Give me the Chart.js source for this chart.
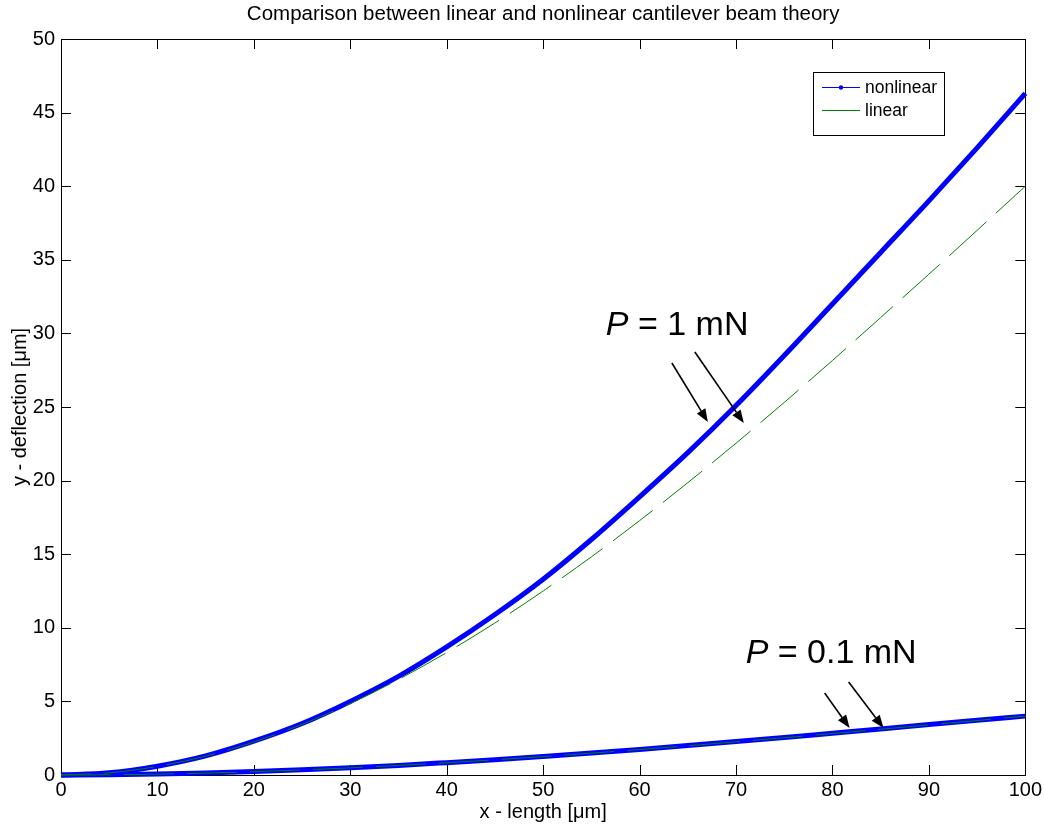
<!DOCTYPE html>
<html><head><meta charset="utf-8">
<script src="https://cdn.jsdelivr.net/npm/chart.js@4/dist/chart.umd.min.js"></script>
<style>html,body{margin:0;padding:0;background:#fff}#wrap{width:1045px;height:828px}</style>
</head><body><div id="wrap"><canvas id="c" width="1045" height="828" style="width:1045px;height:828px"></canvas></div>
<script>
// ---- data ----
const xValues      = [0,5,10,15,20,25,30,35,40,45,50,55,60,65,70,75,80,85,90,95,100];
const nonlinear1mN = [0,0.15,0.6,1.3,2.3,3.5,5.0,6.7,8.7,10.9,13.3,16.0,18.9,21.9,25.1,28.5,32.0,35.5,39.0,42.6,46.3];
const linear1mN    = [0,0.15,0.58,1.28,2.24,3.44,4.86,6.49,8.32,10.33,12.5,14.82,17.28,19.86,22.54,25.31,28.16,31.08,34.02,37.0,40.0];
const nonlinear01mN= [0,0.02,0.06,0.13,0.23,0.35,0.49,0.65,0.84,1.04,1.26,1.49,1.74,2.0,2.27,2.55,2.84,3.13,3.43,3.72,4.0];
const linear01mN   = [0,0.015,0.058,0.128,0.224,0.344,0.486,0.649,0.832,1.033,1.25,1.482,1.728,1.986,2.254,2.531,2.816,3.108,3.402,3.70,4.0];
const xTicks = [0,10,20,30,40,50,60,70,80,90,100];
const yTicks = [0,5,10,15,20,25,30,35,40,45,50];
const seriesNames = ['nonlinear','linear'];
const chartTitle = 'Comparison between linear and nonlinear cantilever beam theory';
const labelTexts = ['P = 1 mN','P = 0.1 mN'];
// annotation anchors in data units: text baseline-left, arrows [x0,y0,x1,y1]
const labelAnchors = [[56.5,29.9],[71.0,7.6]];
const arrowLines = [[63.35,27.99,67.08,23.98],[65.73,28.74,70.81,23.91],[79.19,5.57,81.78,3.19],[81.68,6.32,85.3,3.19]];

const FONT = 'Liberation Sans, Arial, Helvetica, sans-serif';
const toXY = ys => xValues.map((x,i)=>({x:x,y:ys[i]}));

const framePlugin = {
  id:'frame',
  beforeDatasetsDraw(chart){
    const {ctx, chartArea:a, scales:{x,y}} = chart;
    ctx.save();
    ctx.strokeStyle='#000'; ctx.lineWidth=1;
    ctx.beginPath();
    xTicks.forEach(v=>{const p=Math.round(x.getPixelForValue(v))+0.5;
      ctx.moveTo(p,a.bottom); ctx.lineTo(p,a.bottom-10);
      ctx.moveTo(p,a.top); ctx.lineTo(p,a.top+10);});
    yTicks.forEach(v=>{const p=Math.round(y.getPixelForValue(v))+0.5;
      ctx.moveTo(a.left,p); ctx.lineTo(a.left+10,p);
      ctx.moveTo(a.right,p); ctx.lineTo(a.right-10,p);});
    ctx.stroke();
    ctx.strokeRect(Math.round(a.left)+0.5, Math.round(a.top)+0.5, Math.round(a.right-a.left), Math.round(a.bottom-a.top));
    // title centred over the plot box
    ctx.fillStyle='#000'; ctx.font='20.5px '+FONT; ctx.textAlign='center'; ctx.textBaseline='middle';
    ctx.fillText(chartTitle,(a.left+a.right)/2,a.top-25);
    ctx.restore();
  },
  afterDraw(chart){
    const {ctx, scales:{x,y}} = chart;
    ctx.save();
    // annotations
    ctx.fillStyle='#000';
    labelTexts.forEach((t,i)=>{
      const px=x.getPixelForValue(labelAnchors[i][0]), py=y.getPixelForValue(labelAnchors[i][1]);
      ctx.textBaseline='alphabetic'; ctx.textAlign='left';
      ctx.font='italic 34px '+FONT;
      ctx.fillText(t[0],px,py);
      const w=ctx.measureText(t[0]).width;
      ctx.font='34px '+FONT;
      ctx.fillText(t.slice(1),px+w,py);
    });
    ctx.strokeStyle='#000'; ctx.lineWidth=1.6;
    arrowLines.forEach(l=>{
      const x0=x.getPixelForValue(l[0]), y0=y.getPixelForValue(l[1]);
      const x1=x.getPixelForValue(l[2]), y1=y.getPixelForValue(l[3]);
      const ang=Math.atan2(y1-y0,x1-x0), L=13, W=5;
      const bx=x1-L*Math.cos(ang), by=y1-L*Math.sin(ang);
      ctx.beginPath(); ctx.moveTo(x0,y0); ctx.lineTo(bx,by); ctx.stroke();
      ctx.beginPath(); ctx.moveTo(x1,y1);
      ctx.lineTo(bx+W*Math.sin(ang), by-W*Math.cos(ang));
      ctx.lineTo(bx-W*Math.sin(ang), by+W*Math.cos(ang));
      ctx.closePath(); ctx.fill();
    });
    // legend
    const lx=813.5, ly=72.5, lw=131, lh=63;
    ctx.fillStyle='#fff'; ctx.fillRect(lx,ly,lw,lh);
    ctx.strokeStyle='#000'; ctx.lineWidth=1; ctx.strokeRect(lx,ly,lw,lh);
    const rows=[{c:'#0000ff',dot:true,y:87},{c:'#008000',dot:false,y:110}];
    rows.forEach((r,i)=>{
      ctx.strokeStyle=r.c; ctx.lineWidth=1;
      ctx.beginPath(); ctx.moveTo(822,r.y+0.5); ctx.lineTo(860,r.y+0.5); ctx.stroke();
      if(r.dot){ctx.fillStyle=r.c; ctx.beginPath(); ctx.arc(841,r.y+0.5,2.2,0,Math.PI*2); ctx.fill();}
      ctx.fillStyle='#000'; ctx.font='17.5px '+FONT; ctx.textAlign='left'; ctx.textBaseline='middle';
      ctx.fillText(seriesNames[i],865,r.y+1);
    });
    ctx.restore();
  }
};

new Chart(document.getElementById('c'),{
  type:'line',
  data:{datasets:[
    {label:'linear 1mN', data:toXY(linear1mN), borderColor:'#008000', borderWidth:1, borderDash:[50,13], borderDashOffset:20, pointRadius:0, cubicInterpolationMode:'monotone', order:0, clip:6},
    {label:'linear 0.1mN', data:toXY(linear01mN), borderColor:'#008000', borderWidth:1, borderDash:[50,13], pointRadius:0, cubicInterpolationMode:'monotone', order:0, clip:6},
    {label:'nonlinear 1mN', data:toXY(nonlinear1mN), borderColor:'#0000ff', borderWidth:5, pointRadius:0, cubicInterpolationMode:'monotone', order:1, clip:6},
    {label:'nonlinear 0.1mN', data:toXY(nonlinear01mN), borderColor:'#0000ff', borderWidth:5, pointRadius:0, cubicInterpolationMode:'monotone', order:1, clip:6}
  ]},
  options:{
    responsive:false, animation:false, devicePixelRatio:1,
    layout:{padding:{left:0,right:19,top:39,bottom:0}},
    plugins:{
      legend:{display:false}, tooltip:{enabled:false}, title:{display:false}
    },
    scales:{
      x:{type:'linear', min:0, max:100,
        afterBuildTicks:s=>{s.ticks=xTicks.map(v=>({value:v}));},
        afterFit:s=>{s.height=53;},
        grid:{display:false, drawTicks:false, tickLength:0}, border:{display:false},
        ticks:{color:'#000', font:{family:FONT,size:20}, padding:3, maxRotation:0},
        title:{display:true, text:'x - length [μm]', color:'#000', font:{family:FONT,size:20}, padding:{top:0,bottom:4}}
      },
      y:{type:'linear', min:0, max:50,
        afterBuildTicks:s=>{s.ticks=yTicks.map(v=>({value:v}));},
        afterFit:s=>{s.width=61;},
        grid:{display:false, drawTicks:false, tickLength:0}, border:{display:false},
        ticks:{color:'#000', font:{family:FONT,size:20}, padding:6},
        title:{display:true, text:'y - deflection [μm]', color:'#000', font:{family:FONT,size:20}, padding:{top:8,bottom:0}}
      }
    }
  },
  plugins:[framePlugin]
});
</script>
</body></html>
